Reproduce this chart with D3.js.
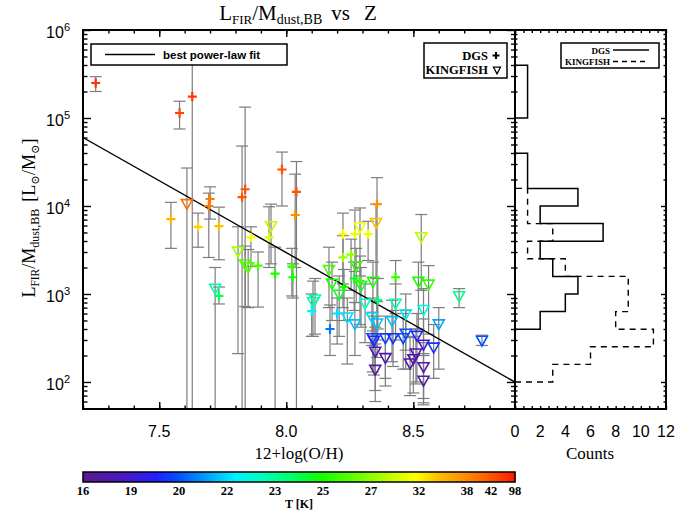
<!DOCTYPE html>
<meta charset="utf-8">
<script src="https://d3js.org/d3.v7.min.js"></script>
<style>
body { margin: 0; background: #fff; }
.axis path { display: none; }
.axis line { stroke: #000; stroke-width: 1.4; }
.serif { font-family: "Liberation Serif", "DejaVu Serif", serif; }
.sans { font-family: "Liberation Sans", "DejaVu Sans", sans-serif; }
</style>
<body>
<script>
// ---- values ----
// DGS (plus signs): metallicity, L_FIR/M_dust, error bar low/high, dust temperature
var dgsZ     = [7.25, 7.58, 7.63, 7.546, 7.653, 7.70, 7.695, 7.735, 7.826, 7.838, 7.861, 7.889, 7.932, 7.956, 7.983, 8.04, 8.035, 8.022, 8.026, 7.735, 8.223, 8.27, 8.322, 8.357, 8.223, 8.255, 8.227, 8.267, 8.29, 8.43, 8.10, 8.20, 8.172, 8.36];
var dgsRatio = [2.5e5, 1.14e5, 1.75e5, 7.1e3, 5.8e3, 1.2e4, 1.0e4, 5.9e3, 1.26e4, 1.55e4, 4.4e3, 2.1e3, 4.4e3, 1.7e3, 2.6e4, 1.45e4, 7.9e3, 2.05e3, 1.55e3, 950, 4.8e3, 4.8e3, 4.8e3, 1.05e4, 2.6e3, 2.8e3, 1.2e3, 1.5e3, 1.4e3, 1.55e3, 640, 600, 400, 850];
var dgsLo    = [2.0e5, 7.5e4, 1, 3.3e3, 3.4e3, 7.1e3, 2.6e3, 2.45e3, 1, 1, 2.05e3, 710, 2.0e3, 1, 1.0e4, 1, 2.0e3, 950, 900, 770, 1.3e3, 1.8e3, 2.4e3, 300, 700, 1.1e3, 500, 650, 450, 600, 330, 270, 200, 400];
var dgsHi    = [2.95e5, 1.55e5, 6.3e5, 1.1e4, 8.3e3, 1.65e4, 1.4e4, 9.7e3, 4.8e4, 1.33e5, 5.8e3, 3.0e3, 9.8e3, 3.4e3, 4.1e4, 3.2e4, 2.3e4, 3.3e3, 2.2e3, 1.2e3, 8.3e3, 9.0e3, 6.7e3, 2.1e4, 4.6e3, 4.2e3, 1.9e3, 2.3e3, 2.7e3, 2.4e3, 1.0e3, 900, 750, 1.5e3];
var dgsT     = [75, 60, 70, 35, 33.5, 39, 39, 34.5, 43, 45, 31, 26, 30, 25, 50, 43, 37.5, 25.5, 25, 24, 31.5, 31, 31, 37.5, 27.5, 27, 25, 24.5, 25.5, 25.5, 22.2, 22, 20.5, 23.5];

// KINGFISH (down triangles)
var kfZ     = [7.609, 7.81, 7.838, 7.85, 7.94, 7.72, 8.168, 8.275, 8.29, 8.353, 8.531, 8.52, 8.56, 8.18, 8.208, 8.294, 8.341, 8.68, 8.113, 8.105, 8.24, 8.27, 8.31, 8.337, 8.357, 8.43, 8.47, 8.54, 8.60, 8.416, 8.34, 8.345, 8.39, 8.42, 8.46, 8.47, 8.514, 8.54, 8.58, 8.77, 8.35, 8.39, 8.487, 8.50, 8.51, 8.54, 8.35, 8.54];
var kfRatio = [1.07e4, 3.1e3, 2.2e3, 2.05e3, 6.0e3, 1.17e3, 1.9e3, 2.1e3, 5.8e3, 6.5e3, 4.5e3, 1.4e3, 1.3e3, 1.33e3, 1.0e3, 1.25e3, 1.4e3, 960, 880, 820, 550, 460, 790, 550, 470, 790, 600, 670, 460, 500, 320, 300, 320, 320, 320, 360, 340, 270, 250, 300, 225, 190, 165, 185, 215, 150, 140, 105];
var kfLo    = [1, 210, 720, 700, 2.2e3, 1, 700, 800, 1.6e3, 1.5e3, 1.1e3, 400, 350, 500, 330, 420, 380, 700, 350, 330, 160, 200, 280, 260, 190, 300, 230, 210, 140, 170, 130, 120, 110, 150, 140, 140, 100, 65, 110, 260, 80, 90, 70, 75, 95, 55, 60, 58];
var kfHi    = [2.7e4, 5.8e3, 3.5e3, 3.2e3, 1.05e4, 2.0e3, 3.4e3, 3.3e3, 9.5e3, 1.05e4, 8.0e3, 2.3e3, 2.1e3, 2.3e3, 1.6e3, 2.0e3, 2.3e3, 1.15e3, 1.5e3, 1.4e3, 900, 800, 1.3e3, 900, 820, 1.3e3, 1.0e3, 1.15e3, 700, 850, 620, 560, 560, 650, 600, 650, 600, 520, 450, 340, 420, 350, 320, 330, 400, 280, 270, 200];
var kfT     = [40, 27.5, 26, 26, 29, 22.9, 25.8, 25.5, 31, 34.3, 28.5, 25, 25.5, 25, 24.5, 24.5, 25, 23.2, 23, 22.8, 22, 21.6, 22.7, 22, 21.6, 22.8, 22.2, 22.4, 21.2, 21.6, 19.8, 19.6, 19.8, 19.7, 19.8, 20, 19.5, 18.8, 19.7, 20, 17.8, 17.5, 17.3, 17.4, 17.6, 17.3, 17, 16.8];

// best power-law fit: log10(ratio) = fitA + fitB * Z
var fitA = 16.55, fitB = -1.635;

// histograms: 0.2 dex bins, lower edges in log10(ratio)
var histBinLo = [2.0, 2.2, 2.4, 2.6, 2.8, 3.0, 3.2, 3.4, 3.6, 3.8, 4.0, 4.2, 4.4, 4.6, 4.8, 5.0, 5.2, 5.4];
var dgsCounts = [0, 0, 0, 2, 4, 5, 3, 2, 7, 2, 5, 1, 1, 0, 0, 1, 1, 1];
var kfCounts  = [3, 6, 11, 8, 9, 9, 4, 1, 3, 1, 1, 0, 0, 0, 0, 0, 0, 0];
var histBinW = 0.2;

// colour bar temperature labels
var tempTicks = [16, 19, 20, 22, 23, 25, 27, 32, 38, 42, 98];
var xTicks = [7.5, 8.0, 8.5];
var countTicks = [0, 2, 4, 6, 8, 10, 12];

// ---- layout ----
var W = 699, H = 513;
var L = 83, R = 515, T0 = 30, B = 409, HR = 666;

var svg = d3.select("body").append("svg")
    .attr("width", W).attr("height", H);

var x = d3.scaleLinear().domain([7.2, 8.9]).range([L, R]);
var y = d3.scaleLog().domain([Math.pow(10, 1.693), 1e6]).range([B, T0]);
var hx = d3.scaleLinear().domain([0, 12]).range([R, HR]);

// temperature -> position on colour bar -> colour
var tempFrac = d3.scaleLinear()
    .domain(tempTicks)
    .range(d3.range(9).map(function(i) { return i / 9; }).concat([17 / 18, 1]))
    .clamp(true);
var rainbow = d3.scaleLinear()
    .domain([0, 0.10, 0.17, 0.22, 0.28, 0.35, 0.41, 0.49, 0.55, 0.64, 0.71, 0.77, 0.82, 0.88, 0.95, 1])
    .range(["#5a1a8c", "#4818c8", "#2020ff", "#0050ff", "#0098ff", "#00f0ff", "#00ffc0", "#00ff60",
            "#10ff00", "#70ff00", "#c0ff00", "#ffff00", "#ffc000", "#ff9000", "#ff5000", "#ff1800"])
    .interpolate(d3.interpolateRgb);
function tcolor(t) { return rainbow(tempFrac(t)); }

var dgs = dgsZ.map(function(z, i) {
    return {z: z, v: dgsRatio[i], lo: dgsLo[i], hi: dgsHi[i], t: dgsT[i]};
});
var kf = kfZ.map(function(z, i) {
    return {z: z, v: kfRatio[i], lo: kfLo[i], hi: kfHi[i], t: kfT[i]};
});

svg.append("clipPath").attr("id", "clip")
    .append("rect").attr("x", L).attr("y", T0).attr("width", R - L).attr("height", B - T0);

var plot = svg.append("g").attr("clip-path", "url(#clip)");

// error bars
var all = dgs.concat(kf);
var eb = plot.selectAll(".eb").data(all).enter().append("g")
    .attr("stroke", "#7d7d7d").attr("stroke-width", 1.2).attr("fill", "none");
eb.append("line")
    .attr("x1", function(d) { return x(d.z); }).attr("x2", function(d) { return x(d.z); })
    .attr("y1", function(d) { return y(Math.max(d.lo, 1)); })
    .attr("y2", function(d) { return y(d.hi); });
eb.append("line")
    .attr("x1", function(d) { return x(d.z) - 6; }).attr("x2", function(d) { return x(d.z) + 6; })
    .attr("y1", function(d) { return y(d.hi); }).attr("y2", function(d) { return y(d.hi); });
eb.filter(function(d) { return d.lo > 1; }).append("line")
    .attr("x1", function(d) { return x(d.z) - 6; }).attr("x2", function(d) { return x(d.z) + 6; })
    .attr("y1", function(d) { return y(d.lo); }).attr("y2", function(d) { return y(d.lo); });

// fit line
plot.append("line")
    .attr("x1", x(7.2)).attr("y1", y(Math.pow(10, fitA + fitB * 7.2)))
    .attr("x2", x(8.9)).attr("y2", y(Math.pow(10, fitA + fitB * 8.9)))
    .attr("stroke", "#000").attr("stroke-width", 1.4);

// markers
var plusPath = "M-4.5,0H4.5M0,-4.7V4.7";
var triPath = "M-5.5,-3.8L5.5,-3.8L0,6Z";
plot.selectAll(".kf").data(kf).enter().append("path")
    .attr("d", triPath)
    .attr("transform", function(d) { return "translate(" + x(d.z) + "," + y(d.v) + ")"; })
    .attr("fill", "none").attr("stroke-width", 1.6)
    .attr("stroke", function(d) { return tcolor(d.t); });
plot.selectAll(".dgs").data(dgs).enter().append("path")
    .attr("d", plusPath)
    .attr("transform", function(d) { return "translate(" + x(d.z) + "," + y(d.v) + ")"; })
    .attr("fill", "none").attr("stroke-width", 2.2)
    .attr("stroke", function(d) { return tcolor(d.t); });

// histograms
function stepPts(counts) {
    var first = counts.findIndex(function(c) { return c > 0; });
    var last = counts.length - 1;
    while (counts[last] === 0) last--;
    var pts = [[hx(0), y(Math.pow(10, histBinLo[first]))]];
    for (var i = first; i <= last; i++) {
        pts.push([hx(counts[i]), y(Math.pow(10, histBinLo[i]))]);
        pts.push([hx(counts[i]), y(Math.pow(10, histBinLo[i] + histBinW))]);
    }
    pts.push([hx(0), y(Math.pow(10, histBinLo[last] + histBinW))]);
    return pts;
}
var line = d3.line();
svg.append("path").attr("d", line(stepPts(kfCounts)))
    .attr("fill", "none").attr("stroke", "#000").attr("stroke-width", 1.4)
    .attr("stroke-dasharray", "6,5");
svg.append("path").attr("d", line(stepPts(dgsCounts)))
    .attr("fill", "none").attr("stroke", "#000").attr("stroke-width", 1.5);

// ---- axes ----
var xMinor = d3.range(72, 90).map(function(v) { return v / 10; });
var yMajor = [1e2, 1e3, 1e4, 1e5, 1e6];
var yMinor = [];
[1, 2, 3, 4, 5].forEach(function(k) {
    for (var m = 2; m <= 9; m++) {
        var v = m * Math.pow(10, k);
        if (v > y.domain()[0] && v < 1e6) yMinor.push(v);
    }
});
var hMinor = d3.range(0, 19).map(function(i) { return i * 2 / 3; });

function ticks(axisFn, scale, vals, len, tx, ty) {
    svg.append("g").attr("class", "axis")
        .attr("transform", "translate(" + tx + "," + ty + ")")
        .call(axisFn(scale).tickValues(vals).tickSize(-len).tickFormat(""));
}
// main panel
ticks(d3.axisBottom, x, xMinor, 3.5, 0, B);
ticks(d3.axisBottom, x, xTicks, 7, 0, B);
ticks(d3.axisTop, x, xMinor, 3.5, 0, T0);
ticks(d3.axisTop, x, xTicks, 7, 0, T0);
ticks(d3.axisLeft, y, yMinor, 4.5, L, 0);
ticks(d3.axisLeft, y, yMajor, 8, L, 0);
ticks(d3.axisRight, y, yMinor, 4, R, 0);
ticks(d3.axisRight, y, yMajor, 8, R, 0);
// histogram panel
ticks(d3.axisBottom, hx, hMinor, 3, 0, B);
ticks(d3.axisTop, hx, hMinor, 3, 0, T0);
ticks(d3.axisLeft, y, yMinor, 2.5, R, 0);
ticks(d3.axisRight, y, yMinor, 2.5, HR, 0);
ticks(d3.axisRight, y, yMajor, 5, HR, 0);

svg.append("rect").attr("x", L).attr("y", T0).attr("width", R - L).attr("height", B - T0)
    .attr("fill", "none").attr("stroke", "#000").attr("stroke-width", 2);
svg.append("rect").attr("x", R).attr("y", T0).attr("width", HR - R).attr("height", B - T0)
    .attr("fill", "none").attr("stroke", "#000").attr("stroke-width", 2);

// tick labels
svg.selectAll(".xl").data(xTicks).enter().append("text")
    .attr("class", "sans").attr("x", function(d) { return x(d); }).attr("y", 437)
    .attr("text-anchor", "middle").attr("font-size", 16)
    .text(function(d) { return d.toFixed(1); });
svg.selectAll(".hl").data(countTicks).enter().append("text")
    .attr("class", "sans").attr("x", function(d) { return hx(d); }).attr("y", 437)
    .attr("text-anchor", "middle").attr("font-size", 16)
    .text(function(d) { return d; });
var yl = svg.selectAll(".yl").data(yMajor).enter().append("text")
    .attr("class", "sans").attr("x", 70).attr("y", function(d) { return y(d) + 8; })
    .attr("text-anchor", "end").attr("font-size", 16);
yl.append("tspan").text("10");
yl.append("tspan").attr("font-size", 11).attr("dy", -7)
    .text(function(d) { return Math.round(Math.log10(d)); });

// titles
var title = svg.append("text").attr("class", "serif").attr("x", 298).attr("y", 20)
    .attr("text-anchor", "middle").attr("font-size", 21);
title.append("tspan").text("L");
title.append("tspan").attr("font-size", 13).attr("dy", 4).text("FIR");
title.append("tspan").attr("dy", -4).text("/M");
title.append("tspan").attr("font-size", 14).attr("dy", 4).text("dust,BB");
title.append("tspan").attr("dy", -4).attr("dx", 9).text("vs");
title.append("tspan").attr("dx", 14).text("Z");

var ylab = svg.append("text").attr("class", "serif")
    .attr("transform", "translate(35,218) rotate(-90)")
    .attr("text-anchor", "middle").attr("font-size", 18);
ylab.append("tspan").text("L");
ylab.append("tspan").attr("font-size", 11.5).attr("dy", 4).text("FIR");
ylab.append("tspan").attr("dy", -4).text("/M");
ylab.append("tspan").attr("font-size", 12).attr("dy", 4).text("dust,BB");
ylab.append("tspan").attr("dy", -4).attr("dx", 7).text("[L");
ylab.append("tspan").attr("font-size", 11.5).attr("dy", 4).text("\u2299");
ylab.append("tspan").attr("dy", -4).text("/M");
ylab.append("tspan").attr("font-size", 11.5).attr("dy", 4).text("\u2299");
ylab.append("tspan").attr("dy", -4).text("]");

svg.append("text").attr("class", "serif").attr("x", 299).attr("y", 459)
    .attr("text-anchor", "middle").attr("font-size", 17).text("12+log(O/H)");
svg.append("text").attr("class", "serif").attr("x", 590).attr("y", 459)
    .attr("text-anchor", "middle").attr("font-size", 17).text("Counts");

// ---- legends ----
var lg1 = svg.append("g");
lg1.append("rect").attr("x", 91).attr("y", 44).attr("width", 196).attr("height", 21)
    .attr("fill", "#fff").attr("stroke", "#000").attr("stroke-width", 1.5);
lg1.append("line").attr("x1", 105).attr("x2", 155).attr("y1", 54.5).attr("y2", 54.5)
    .attr("stroke", "#000").attr("stroke-width", 1.4);
lg1.append("text").attr("class", "sans").attr("x", 163).attr("y", 58.5)
    .attr("font-size", 11.5).attr("font-weight", "bold").text("best power-law fit");

var lg2 = svg.append("g");
lg2.append("rect").attr("x", 424).attr("y", 43).attr("width", 83).attr("height", 35)
    .attr("fill", "#fff").attr("stroke", "#000").attr("stroke-width", 1.5);
lg2.append("text").attr("class", "serif").attr("x", 488).attr("y", 59.5)
    .attr("text-anchor", "end").attr("font-size", 12.5).attr("font-weight", "bold").text("DGS");
lg2.append("text").attr("class", "serif").attr("x", 488).attr("y", 74)
    .attr("text-anchor", "end").attr("font-size", 12.5).attr("font-weight", "bold").text("KINGFISH");
lg2.append("path").attr("d", "M-3.5,0H3.5M0,-3.5V3.5")
    .attr("transform", "translate(496,55.5)").attr("stroke", "#000").attr("stroke-width", 2);
lg2.append("path").attr("d", "M-3.5,-2.8L3.5,-2.8L0,3.8Z")
    .attr("transform", "translate(497,70)").attr("fill", "none").attr("stroke", "#000").attr("stroke-width", 1.3);

var lg3 = svg.append("g");
lg3.append("rect").attr("x", 561).attr("y", 43).attr("width", 98).attr("height", 25)
    .attr("fill", "#fff").attr("stroke", "#000").attr("stroke-width", 1.5);
lg3.append("text").attr("class", "serif").attr("x", 610).attr("y", 53.5)
    .attr("text-anchor", "end").attr("font-size", 9).attr("font-weight", "bold").text("DGS");
lg3.append("text").attr("class", "serif").attr("x", 610).attr("y", 64.5)
    .attr("text-anchor", "end").attr("font-size", 9).attr("font-weight", "bold").text("KINGFISH");
lg3.append("line").attr("x1", 613).attr("x2", 649).attr("y1", 50).attr("y2", 50)
    .attr("stroke", "#000").attr("stroke-width", 1.4);
lg3.append("line").attr("x1", 613).attr("x2", 649).attr("y1", 61.5).attr("y2", 61.5)
    .attr("stroke", "#000").attr("stroke-width", 1.4).attr("stroke-dasharray", "5,4");

// ---- colour bar ----
var cbX = d3.scaleLinear().domain([0, 1]).range([L, R]);
var cb = svg.append("g");
var nSlices = 144;
cb.selectAll("rect").data(d3.range(nSlices)).enter().append("rect")
    .attr("x", function(i) { return cbX(i / nSlices); })
    .attr("y", 472).attr("height", 10)
    .attr("width", (R - L) / nSlices + 0.6)
    .attr("fill", function(i) { return rainbow((i + 0.5) / nSlices); });
svg.append("rect").attr("x", L).attr("y", 472).attr("width", R - L).attr("height", 10)
    .attr("fill", "none").attr("stroke", "#000").attr("stroke-width", 1.5);
svg.selectAll(".cbl").data(tempTicks).enter().append("text")
    .attr("class", "serif").attr("x", function(d) { return cbX(tempFrac(d)); }).attr("y", 495)
    .attr("text-anchor", "middle").attr("font-size", 12.5).attr("font-weight", "bold")
    .text(function(d) { return d; });
svg.append("text").attr("class", "serif").attr("x", 299).attr("y", 508)
    .attr("text-anchor", "middle").attr("font-size", 12).attr("font-weight", "bold").text("T [K]");
</script>
</body>
